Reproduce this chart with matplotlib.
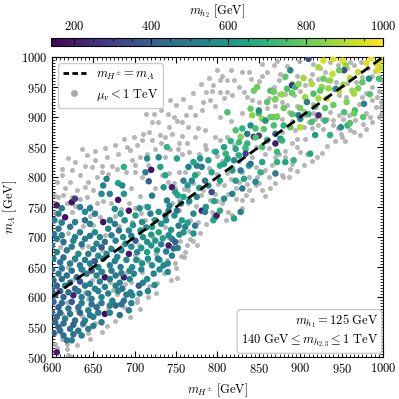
import numpy as np
import matplotlib
matplotlib.use("Agg")
import matplotlib.pyplot as plt
from matplotlib.ticker import MultipleLocator
from matplotlib.lines import Line2D

plt.rcParams.update({
    "font.family": "serif",
    "font.serif": ["cmr10", "DejaVu Serif"],
    "mathtext.fontset": "cm",
    "axes.formatter.use_mathtext": True,
    "font.size": 9,
})

# grey points: (m_H+-, m_A) with mu_v < 1 TeV
grey_points = [
    (723,905),(721,892),(717,875),(699,867),(703,853),(709,861),(687,864),(691,850),(721,861),(725,847),
    (652,844),(642,836),(652,828),(666,833),(680,839),(707,833),(697,828),(715,839),(640,819),(648,817),
    (660,819),(673,819),(679,814),(612,814),(624,811),(634,803),(612,803),(606,792),(622,792),(644,792),
    (654,800),(701,808),(709,800),(616,781),(630,778),(640,783),(650,778),(608,767),(624,767),(634,764),
    (642,767),(695,781),(707,769),(725,781),(604,756),(618,756),(654,756),(693,756),
    (816,978),(830,975),(838,975),(840,964),(854,969),(854,989),(805,969),(803,961),(812,961),(820,961),
    (795,953),(826,950),(832,942),(793,944),(803,942),(812,942),(808,931),(818,936),(836,933),(842,928),
    (783,925),(791,928),(797,919),(767,917),(781,911),(743,928),(773,903),(751,894),(757,892),(803,900),
    (816,894),(830,906),(854,897),(765,883),(741,883),(745,872),(737,867),(757,869),(777,881),(785,878),
    (797,867),(803,861),(812,867),(820,853),(773,867),(763,856),(753,856),(785,853),(795,844),(743,847),
    (757,839),(813,833),(824,839),(842,833),(858,839),(846,817),(854,808),(838,800),(830,808),(818,817),
    (812,806),(801,789),(808,786),(813,772),(822,781),(838,778),(846,786),(797,772),(791,761),(783,778),
    (777,806),(761,808),(753,808),(749,781),(741,806),(733,803),(737,833),(765,778),(753,761),(745,756),
    (830,761),(842,761),(854,778),(862,800),
    (868,986),(876,972),(874,961),(868,950),(898,994),(916,989),(914,972),(924,981),(936,992),(957,981),
    (965,986),(973,992),(991,989),(987,969),(975,967),(967,958),(957,956),(943,958),(932,961),(922,964),
    (906,953),(900,944),(890,956),(882,939),(874,939),(868,928),(878,925),(892,936),(904,933),(908,925),
    (916,922),(939,947),(947,936),(955,933),(975,933),(987,950),(995,944),(993,933),(987,928),(971,922),
    (965,914),(991,917),(997,917),(995,900),(987,892),(979,906),(959,903),(947,903),(936,908),(932,897),
    (926,897),(916,906),(906,903),(898,900),(890,894),(878,897),(872,903),(886,908),(922,886),(939,886),
    (945,881),(914,881),(910,892),(904,883),(894,878),(878,875),(951,867),(949,872),(965,875),(896,864),
    (906,864),(890,856),(876,861),(882,844),(896,850),(900,842),(870,833),(882,833),(890,822),(920,833),
    (908,839),(888,814),(878,803),(874,839),(879,800),
    (604,706),(620,706),(638,719),(658,733),(664,703),(697,725),(681,719),(713,728),(610,683),(636,683),
    (670,683),(705,686),(628,661),(650,661),(689,661),(705,661),(612,647),(638,647),(662,644),(691,642),
    (709,642),(717,619),(703,597),(624,628),(648,628),(670,625),(695,625),(608,611),(640,608),(679,605),
    (703,592),(618,592),(656,589),(668,581),(687,583),(612,572),(636,569),(652,556),(636,553),(660,542),
    (618,522),(618,514),(604,522),(620,503),(644,540),(606,515),(622,502),(727,623),(751,632),
    (767,728),(777,725),(779,706),(775,686),(763,686),(761,675),(749,656),(739,661),(793,742),(813,742),
    (810,728),(737,717),(767,697),(755,694),
    (602,770),(614,770),(628,752),(646,752),(662,760),(672,756),(684,746),(700,748),(712,752),(660,808),
    (668,805),(690,808),(700,820),(716,820),(628,825),(620,832),(636,846),(664,848),(676,854),(694,845),
    (710,872),(730,870),(728,892),(714,905),(732,912),(740,905),(750,920),(758,930),(770,940),(780,955),
    (790,965),(800,978),(786,942),(762,904),(748,900),(732,856),(752,846),(766,842),(778,838),(786,846),
    (800,835),(806,826),(826,826),(832,852),(846,850),(860,860),(862,848),(866,820),(858,812),(848,800),
    (836,788),(826,792),(816,796),(800,805),(790,815),(770,790),(780,770),(760,780),(748,790),(740,792),
    (754,745),(764,756),(774,752),(786,752),(800,760),(806,756),(822,764),(834,770),(850,790),(858,768),
    (864,782),(870,790),(886,800),(896,810),(904,820),(914,826),(926,840),(932,852),(942,860),(954,860),
    (958,890),(966,895),(976,888),(984,900),(998,905),(998,925),(980,940),(1000,960),(990,976),(982,982),
    (960,992),(946,986),(930,975),(912,962),(896,968),(884,985),(872,994),(860,975),(850,960),(862,932),
    (850,925),(860,915),(870,918),(884,920),(896,918),(892,905),(904,910),(918,896),(928,880),(936,872),
    (940,895),(952,897),(960,878),(972,870),(980,880),
    (604,740),(610,726),(624,742),(646,735),(650,720),(676,735),(686,728),(708,740),(722,730),(614,690),
    (644,685),(660,678),(686,686),(700,670),(726,672),(716,660),(736,640),(744,628),(726,606),(716,600),
    (706,580),(694,566),(676,560),(666,552),(646,530),(630,520),(612,530),(604,540),(600,560),(630,578),
    (644,596),(674,612),(688,622),(620,650),(600,664),(646,652),(678,664),(730,648),(750,648),(760,666),
    (740,700),(722,700),(756,668),(766,710),(786,722),(818,736),(830,748),(770,694),
]

# coloured points: (m_H+-, m_A, m_h2)
colour_points = [
    (715,831,550),(687,817,700),(720,812,180),(713,808,500),(717,793,400),(666,797,500),(680,790,650),
    (685,786,550),(662,786,500),(670,772,520),(660,772,550),(687,772,600),(680,762,180),(624,758,170),
    (628,764,300),(721,769,500),(606,753,200),(729,833,550),(731,817,650),
    (844,944,800),(848,950,800),(864,944,750),(812,908,750),(840,914,800),(842,903,850),(850,906,750),
    (854,897,850),(850,911,550),(840,886,550),(858,894,550),(822,878,750),(830,881,700),(828,867,820),
    (836,872,500),(846,881,750),(844,867,200),(850,869,300),(836,856,700),(834,847,720),(822,847,650),
    (854,850,750),(834,839,300),(808,850,650),(810,839,700),(820,828,550),(803,819,680),(808,822,650),
    (789,828,620),(781,817,520),(775,819,520),(779,831,600),(771,825,650),(793,808,650),(818,811,620),
    (828,811,500),(838,819,640),(854,825,650),(852,808,700),(840,822,480),(765,817,500),(751,831,650),
    (739,850,700),(737,803,650),(773,803,650),(759,794,520),(769,794,550),(785,794,500),(803,794,650),
    (789,786,550),(822,794,620),(832,797,640),(830,781,500),(745,783,200),(749,775,640),(793,775,330),
    (775,767,530),(759,767,640),(739,761,500),(735,783,600),(818,772,520),(846,792,550),
    (910,997,330),(928,994,950),(940,997,950),(951,994,950),(955,986,850),(953,978,350),(947,978,800),
    (939,972,920),(888,978,550),(882,967,780),(993,978,950),(994,989,950),(995,964,750),(922,983,880),
    (928,964,800),(936,961,850),(890,953,250),(894,950,720),(884,947,750),(926,950,850),(943,947,550),
    (924,944,780),(947,944,920),(963,944,870),(965,939,880),(975,958,780),(983,964,550),(906,933,870),
    (916,939,750),(922,931,880),(908,925,500),(932,931,920),(918,917,750),(868,942,800),(977,922,530),
    (953,908,750),(966,911,750),(965,906,800),(868,900,780),(872,900,820),(898,903,500),(900,897,550),
    (914,892,750),(922,903,250),(930,894,720),(949,883,550),(957,886,700),(880,886,700),(900,883,900),
    (868,886,750),(870,872,480),(888,883,780),(876,864,600),(870,856,200),(878,861,700),(872,842,720),
    (912,839,650),(872,825,700),(882,825,650),(892,828,700),(870,806,500),
    (608,739,500),(616,733,170),(628,725,500),(640,742,550),(652,739,500),(662,725,170),(670,728,520),
    (683,739,620),(693,744,180),(701,736,620),(709,725,550),(719,739,500),(725,728,600),(729,742,560),
    (608,714,480),(622,717,480),(634,708,500),(652,708,550),(668,714,520),(681,711,450),(693,711,550),
    (707,711,600),(721,717,620),(729,708,650),(606,697,500),(614,692,450),(626,694,520),(640,697,500),
    (654,689,530),(664,692,450),(677,694,500),(689,689,540),(701,694,400),(715,692,560),(725,694,600),
    (606,675,500),(618,678,480),(632,672,550),(644,672,500),(656,669,560),(666,672,530),(679,667,540),
    (693,672,200),(703,675,550),(715,675,620),(727,678,600),(610,658,470),(622,656,500),(634,653,480),
    (646,656,520),(656,650,550),(664,633,170),(670,653,520),(683,650,500),(687,633,200),(697,650,560),
    (709,656,570),(721,653,560),(608,639,480),(618,636,450),(630,633,470),(642,639,490),(654,636,540),
    (677,636,480),(699,639,520),(705,619,380),(715,630,540),(723,639,530),(606,619,420),(616,619,500),
    (628,614,440),(640,619,480),(652,614,520),(664,617,500),(677,619,500),(685,614,450),(695,608,500),
    (604,603,440),(614,600,420),(626,603,220),(636,600,500),(648,597,480),(660,600,520),(673,594,500),
    (687,594,460),(697,603,530),(608,583,400),(620,581,470),(632,583,480),(644,578,500),(654,583,450),
    (664,572,170),(677,586,420),(693,578,520),(606,567,430),(616,564,500),(628,561,470),(640,561,520),
    (650,567,500),(660,558,490),(608,550,420),(622,547,480),(632,544,470),(644,547,520),(614,536,450),
    (624,528,520),(606,508,200),
    (737,736,500),(741,744,520),(751,744,450),(757,728,620),(753,719,500),(761,717,520),(759,708,600),
    (771,739,550),(773,719,500),(771,706,600),(781,744,200),(785,742,500),(795,728,650),(797,733,620),
    (799,736,200),(803,744,680),(820,731,650),(828,742,520),(745,697,520),(741,686,200),(747,681,450),
    (745,669,500),(735,653,530),(741,703,550),(749,692,400),
    (612,748,480),(634,750,520),(646,748,500),(676,747,540),(706,748,560),(716,750,600),
    (603,728,500),(612,724,520),(640,728,460),(646,722,530),(676,722,500),(688,728,560),(698,720,600),
    (714,716,580),(732,722,600),(602,705,460),(612,703,520),(628,700,500),(646,702,480),(658,700,540),
    (672,703,520),(686,700,560),(696,702,500),(710,700,580),(720,704,600),(734,698,620),
    (600,686,480),(624,684,500),(636,688,460),(650,680,520),(660,683,380),(672,680,540),(684,678,520),
    (696,684,560),(708,682,600),(720,686,600),(602,664,480),(614,666,440),(628,664,520),(640,662,490),
    (652,660,400),(662,664,540),(676,660,520),(690,662,550),(702,662,560),(716,664,580),(730,662,600),
    (600,646,440),(612,648,500),(624,644,460),(636,646,520),(648,644,380),(660,642,530),(672,644,500),
    (684,640,530),(694,644,550),(708,646,540),(730,646,560),(740,642,540),
    (602,628,420),(612,630,460),(622,624,480),(634,626,360),(646,622,500),(658,626,520),(670,630,490),
    (682,624,520),(694,630,540),(710,624,520),(724,620,560),
    (600,612,420),(610,610,380),(620,608,460),(632,610,480),(644,606,500),(656,610,530),(668,606,500),
    (680,610,520),(690,604,500),(706,606,540),(716,610,520),
    (602,592,410),(612,590,460),(624,592,380),(636,590,500),(648,588,480),(660,590,500),(670,586,520),
    (684,588,460),(696,590,520),(600,575,400),(610,574,440),(622,572,480),(634,574,420),(646,570,500),
    (656,574,480),(670,574,520),(682,570,460),(604,558,420),(614,556,460),(626,554,400),(638,556,480),
    (650,552,500),(602,540,380),(610,544,440),(626,538,460),(636,536,500),(618,528,480),
    (738,728,540),(748,736,560),(744,712,600),(754,704,560),(764,724,620),(732,688,500),(738,676,520),
    (752,682,480),(728,664,500),(740,656,540),
    (742,752,560),(756,756,600),(766,760,520),(752,770,650),(764,786,600),(778,782,620),(796,760,640),
    (808,764,560),(786,750,600),
    (812,830,640),(826,836,680),(798,842,660),(816,860,700),(826,858,720),(846,866,760),(856,880,780),
    (860,862,700),(864,900,800),(860,925,780),(870,930,820),(878,938,860),(890,940,800),(898,955,850),
    (904,965,880),(914,955,900),(934,948,860),(952,954,880),(960,965,900),(970,975,920),(980,990,950),
    (986,998,960),(1000,995,950),(998,982,920),(970,948,820),(984,938,760),(900,915,820),(890,905,760),
    (880,915,800),(940,920,800),(956,925,830),(930,915,780),(910,905,700),(918,870,620),(936,870,700),
    (960,890,760),(976,900,780),
]

line_x = [600, 1000]
cbar_ticks = [200, 400, 600, 800, 1000]

gx, gy = zip(*grey_points)
cx, cy, cc = zip(*colour_points)

fig = plt.figure(figsize=(3.99, 3.99), dpi=100)
ax = fig.add_axes([0.130, 0.105, 0.830, 0.752])
cax = fig.add_axes([0.127, 0.885, 0.833, 0.020])

ax.scatter(gx, gy, s=13, color="#aaaaaa", alpha=0.85, linewidths=0, zorder=2)
sc = ax.scatter(cx, cy, c=cc, cmap="viridis", vmin=140, vmax=1000, s=22,
                linewidths=0, zorder=3)
ax.plot(line_x, line_x, color="black", ls="--", lw=2, dashes=(3.5, 2), zorder=4)

ax.set_xlim(600, 1000)
ax.set_ylim(500, 1000)
ax.xaxis.set_major_locator(MultipleLocator(50))
ax.xaxis.set_minor_locator(MultipleLocator(5))
ax.yaxis.set_major_locator(MultipleLocator(50))
ax.yaxis.set_minor_locator(MultipleLocator(5))
ax.tick_params(which="both", direction="in", top=True, right=True, labelsize=9)
ax.tick_params(which="major", length=4)
ax.tick_params(which="minor", length=2)
ax.set_xlabel(r"$m_{H^{\pm}}\ [\mathrm{GeV}]$", fontsize=9)
ax.set_ylabel(r"$m_A\ [\mathrm{GeV}]$", fontsize=9)
ax.yaxis.set_label_coords(-0.098, 0.5)

handles = [
    Line2D([0], [0], color="black", ls="--", lw=2, dashes=(2, 1.2)),
    Line2D([0], [0], marker="o", ls="none", color="#aaaaaa", markersize=4),
]
labels = [r"$m_{H^{\pm}} = m_A$", r"$\mu_v < 1\ \mathrm{TeV}$"]
leg = ax.legend(handles, labels, loc="upper left", fontsize=9, frameon=True,
                fancybox=True, edgecolor="#cccccc", framealpha=1, handlelength=1.8,
                borderpad=0.4, labelspacing=0.4)
leg.set_zorder(10)

ax.text(0.985, 0.025, r"$m_{h_1} = 125\ \mathrm{GeV}$" + "\n" +
        r"$140\ \mathrm{GeV} \leq m_{h_{2,3}} \leq 1\ \mathrm{TeV}$",
        transform=ax.transAxes, ha="right", va="bottom", fontsize=9, multialignment="right",
        bbox=dict(boxstyle="round,pad=0.3", fc="white", ec="#cccccc"), zorder=10)

cb = fig.colorbar(sc, cax=cax, orientation="horizontal")
cb.set_ticks(cbar_ticks)
cb.ax.xaxis.set_minor_locator(MultipleLocator(50))
cb.ax.xaxis.set_ticks_position("top")
cb.ax.xaxis.set_label_position("top")
cb.ax.tick_params(which="both", direction="in", labelsize=9)
cb.ax.tick_params(which="major", length=4)
cb.ax.tick_params(which="minor", length=2)
cb.set_label(r"$m_{h_2}\ [\mathrm{GeV}]$", fontsize=9)

fig.savefig("out.png", dpi=100)
